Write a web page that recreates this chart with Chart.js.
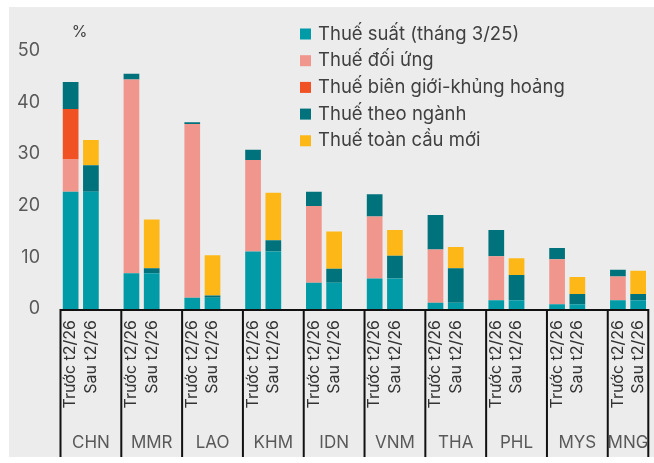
<!DOCTYPE html>
<html>
<head>
<meta charset="utf-8">
<script src="https://cdn.jsdelivr.net/npm/chart.js@4.4.1/dist/chart.umd.min.js"></script>
<style>
  html, body { margin: 0; padding: 0; background: #fff; }
  #wrap { position: absolute; left: 9px; top: 7px; width: 645px; height: 450px; background: #ececec; }
</style>
</head>
<body>
<div id="wrap"><canvas id="taxChart" width="645" height="450"></canvas></div>
<script>
const countries = ['CHN', 'MMR', 'LAO', 'KHM', 'IDN', 'VNM', 'THA', 'PHL', 'MYS', 'MNG'];
const periods = ['Trước t2/26', 'Sau t2/26'];

// Thuế suất (tháng 3/25)
const baseBefore = [22.7, 6.9, 2.2, 11.1, 5.1, 5.9, 1.2, 1.7, 0.9, 1.7];
const baseAfter  = [22.7, 6.9, 2.2, 11.1, 5.1, 5.9, 1.2, 1.7, 0.9, 1.7];
// Thuế đối ứng (chỉ trước t2/26)
const reciprocalBefore = [6.2, 37.5, 33.6, 17.7, 14.8, 12.0, 10.3, 8.5, 8.7, 4.6];
// Thuế biên giới-khủng hoảng (chỉ CHN)
const borderBefore = [9.8, 0, 0, 0, 0, 0, 0, 0, 0, 0];
// Thuế theo ngành
const sectorBefore = [5.2, 1.1, 0.3, 2.0, 2.8, 4.3, 6.7, 5.1, 2.2, 1.3];
const sectorAfter  = [5.1, 1.0, 0.4, 2.2, 2.7, 4.4, 6.7, 4.9, 2.0, 1.2];
// Thuế toàn cầu mới (chỉ sau t2/26)
const globalAfter = [4.9, 9.4, 7.8, 9.2, 7.2, 5.0, 4.1, 3.2, 3.3, 4.5];

const yTicks = [0, 10, 20, 30, 40, 50];

// mỗi nước: cột trước, cột sau, một ô trống; nước cuối không có ô trống
function slots(before, after) {
    const out = [];
    countries.forEach((c, i) => {
        out.push(before ? before[i] : null, after ? after[i] : null);
        if (i < countries.length - 1) out.push(null);
    });
    return out;
}
const labels = slots(countries.map(() => periods[0]), countries.map(() => periods[1]))
    .map(l => l || '');

const groupAxis = {
    id: 'groupAxis',
    afterDatasetsDraw(chart) {
        const ctx = chart.ctx;
        const area = chart.chartArea;
        const x = chart.scales.x;
        const step = x.getPixelForValue(1) - x.getPixelForValue(0);
        const yLine = area.bottom + 1;
        const edges = countries.map((c, i) => x.getPixelForValue(i * 3) - step / 2);
        edges.push(area.right);

        ctx.save();
        ctx.strokeStyle = '#111';
        ctx.lineWidth = 2;
        ctx.beginPath();
        ctx.moveTo(edges[0] - 1, yLine);
        ctx.lineTo(area.right + 1, yLine);
        edges.forEach(px => {
            ctx.moveTo(px, yLine);
            ctx.lineTo(px, chart.height);
        });
        ctx.stroke();

        ctx.fillStyle = '#595959';
        ctx.font = '17px Inter';
        ctx.textAlign = 'center';
        ctx.textBaseline = 'middle';
        countries.forEach((c, i) => {
            ctx.fillText(c, (edges[i] + edges[i + 1]) / 2, 436);
        });

        ctx.fillStyle = '#404040';
        ctx.font = '16px Inter';
        ctx.fillText('%', 70.5, 25);
        ctx.restore();
    }
};

const legendBox = {
    id: 'legendBox',
    afterDraw(chart) {
        const ctx = chart.ctx;
        ctx.save();
        ctx.font = '18.5px Inter';
        ctx.textBaseline = 'middle';
        ctx.textAlign = 'left';
        chart.data.datasets.forEach((ds, i) => {
            const y = 27 + i * 26.7;
            ctx.fillStyle = ds.backgroundColor;
            ctx.fillRect(291, y - 5.5, 11, 11);
            ctx.fillStyle = '#404040';
            ctx.fillText(ds.label, 309, y);
        });
        ctx.restore();
    }
};

Chart.defaults.font.family = 'Inter';

new Chart(document.getElementById('taxChart'), {
    type: 'bar',
    data: {
        labels: labels,
        datasets: [
            { label: 'Thuế suất (tháng 3/25)', data: slots(baseBefore, baseAfter), backgroundColor: '#009ba6' },
            { label: 'Thuế đối ứng', data: slots(reciprocalBefore, null), backgroundColor: '#f0968d' },
            { label: 'Thuế biên giới-khủng hoảng', data: slots(borderBefore, null), backgroundColor: '#f15223' },
            { label: 'Thuế theo ngành', data: slots(sectorBefore, sectorAfter), backgroundColor: '#00727b' },
            { label: 'Thuế toàn cầu mới', data: slots(null, globalAfter), backgroundColor: '#fdb818' }
        ]
    },
    options: {
        responsive: false,
        animation: false,
        layout: { padding: { left: 0, top: 43.5, right: 5.7, bottom: 0 } },
        datasets: {
            bar: { barPercentage: 0.775, categoryPercentage: 1, borderWidth: 0 }
        },
        plugins: {
            legend: { display: false },
            tooltip: { enabled: false }
        },
        scales: {
            x: {
                stacked: true,
                grid: { display: false, drawTicks: false },
                border: { display: false },
                ticks: {
                    autoSkip: false,
                    minRotation: 90,
                    maxRotation: 90,
                    padding: 11,
                    color: '#333',
                    font: { size: 16 }
                },
                afterFit(scale) {
                    scale.height = 148;
                    scale.paddingLeft = 0;
                    scale.paddingRight = 0;
                }
            },
            y: {
                stacked: true,
                min: 0,
                max: 50,
                grid: { display: false, drawTicks: false },
                border: { display: false },
                afterBuildTicks(scale) { scale.ticks = yTicks.map(v => ({ value: v })); },
                ticks: {
                    padding: 20.5,
                    color: '#595959',
                    font: { size: 18 }
                },
                afterFit(scale) {
                    scale.width = 51.5;
                    scale.paddingTop = 0;
                    scale.paddingBottom = 0;
                }
            }
        }
    },
    plugins: [groupAxis, legendBox]
});
</script>
</body>
</html>
